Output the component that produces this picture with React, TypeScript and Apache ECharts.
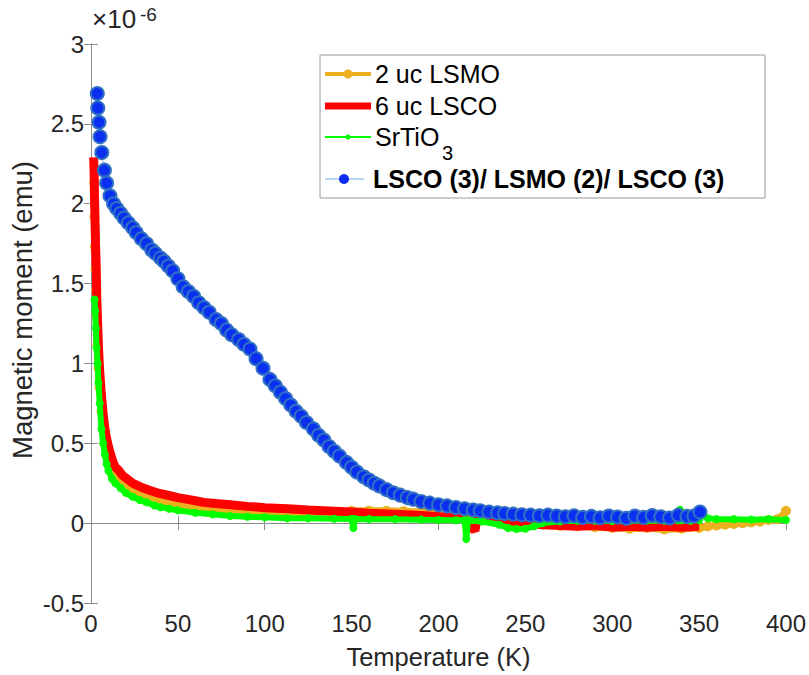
import React, { useEffect, useRef } from "react";
import * as echarts from "echarts";

// Temperature (K) and magnetic moment (×10^-6 emu)
const tempLSMO = [1.8, 2.0, 2.3, 2.6, 2.9, 3.3, 3.8, 4.4, 5, 6, 7, 8, 9, 10, 12, 14, 17, 20, 24, 28, 32, 36, 40, 45, 50, 55, 60, 70, 80, 90, 100, 113, 120, 130, 140, 150, 160, 170, 180, 190, 200, 210, 220, 230, 240, 250, 260, 270, 280, 290, 300, 310, 320, 330, 340, 350, 355, 360, 365, 370, 375, 380, 385, 390, 395, 398, 400];
const momentLSMO = [2.13, 1.92, 1.73, 1.59, 1.46, 1.3, 1.12, 0.97, 0.85, 0.7, 0.6, 0.52, 0.46, 0.41, 0.35, 0.31, 0.26, 0.23, 0.2, 0.18, 0.165, 0.15, 0.14, 0.125, 0.115, 0.105, 0.095, 0.085, 0.078, 0.07, 0.065, 0.058, 0.06, 0.065, 0.07, 0.077, 0.078, 0.077, 0.075, 0.07, 0.06, 0.05, 0.04, 0.03, 0.015, 0.0, -0.01, -0.017, -0.02, -0.025, -0.03, -0.035, -0.03, -0.04, -0.035, -0.03, -0.02, -0.015, -0.01, -0.005, 0.0, 0.005, 0.01, 0.02, 0.025, 0.04, 0.077];

const tempLSCO = [1.5, 1.8, 2.0, 2.3, 2.6, 3.0, 3.3, 3.8, 4.3, 5, 5.8, 7, 8, 9, 10, 11, 12.7, 14, 16, 18, 21, 24, 27, 30, 34, 38, 42, 46, 50, 55, 60, 65, 70, 75, 80, 90, 100, 113, 125, 140, 150, 160, 175, 190, 205, 215, 221, 222, 230, 240, 250, 260, 270, 280, 290, 300, 310, 320, 330, 340, 350];
const momentLSCO = [2.29, 2.2, 2.05, 1.9, 1.75, 1.6, 1.42, 1.25, 1.1, 0.95, 0.83, 0.68, 0.59, 0.53, 0.48, 0.44, 0.38, 0.35, 0.33, 0.3, 0.275, 0.25, 0.235, 0.22, 0.205, 0.19, 0.18, 0.17, 0.16, 0.15, 0.14, 0.13, 0.125, 0.12, 0.115, 0.105, 0.097, 0.09, 0.082, 0.075, 0.07, 0.062, 0.056, 0.048, 0.037, 0.03, -0.048, 0.025, 0.02, 0.01, 0.0, -0.01, -0.015, -0.02, -0.015, -0.025, -0.02, -0.025, -0.02, -0.025, -0.02];

const tempSTO = [2.0, 2.4, 2.8, 3.2, 3.8, 4.3, 5, 6, 7, 8, 9, 10, 12, 14, 17, 20, 24, 28, 32, 36.6, 40, 45, 50, 60, 70, 80, 90, 100, 113, 125, 140, 150, 151, 152, 160, 175, 190, 200, 210, 215, 216, 217, 225, 235, 240, 245, 250, 255, 260, 270, 280, 290, 300, 310, 320, 330, 338, 339, 340, 345, 350, 352, 355, 360, 370, 380, 390, 400];
const momentSTO = [1.4, 1.33, 1.22, 1.1, 1.0, 0.88, 0.75, 0.59, 0.5, 0.43, 0.37, 0.33, 0.28, 0.25, 0.22, 0.19, 0.165, 0.145, 0.13, 0.11, 0.1, 0.09, 0.08, 0.065, 0.055, 0.045, 0.04, 0.037, 0.03, 0.03, 0.028, 0.026, -0.03, 0.026, 0.025, 0.025, 0.022, 0.02, 0.018, 0.02, -0.1, 0.018, 0.01, -0.01, -0.03, -0.037, -0.035, -0.02, 0.0, 0.012, 0.015, 0.015, 0.013, 0.015, 0.016, 0.015, 0.018, 0.083, 0.018, 0.015, 0.02, 0.05, 0.03, 0.025, 0.025, 0.022, 0.025, 0.02];

const tempTri = [3.6, 3.9, 4.6, 5.2, 6.2, 7.7, 9.0, 10.9, 13, 14.8, 17, 19, 21.5, 24, 26, 29, 32, 35, 37, 40, 42, 44.5, 47, 50, 53, 56, 59, 62, 65, 68, 72, 75, 78, 81, 85, 88, 91.5, 95, 99, 103, 106, 109, 112, 115, 118, 121, 124, 128, 131, 134, 137, 140, 143, 147, 150, 153, 157, 160, 163, 166, 170, 174, 178, 182, 185.5, 190, 195, 200, 205, 210, 215, 220, 224, 229, 234, 238, 243, 248, 253, 258, 263, 268, 273, 278, 283, 288, 293, 298, 303, 308, 313, 318, 323, 328, 333, 338, 343, 347, 350.5];
const momentTri = [2.69, 2.6, 2.51, 2.42, 2.32, 2.21, 2.13, 2.05, 2.0, 1.97, 1.94, 1.91, 1.88, 1.85, 1.82, 1.78, 1.75, 1.71, 1.69, 1.66, 1.64, 1.61, 1.58, 1.53, 1.48, 1.45, 1.42, 1.38, 1.35, 1.32, 1.275, 1.25, 1.21, 1.18, 1.15, 1.12, 1.09, 1.03, 0.97, 0.9, 0.86, 0.82, 0.78, 0.74, 0.7, 0.67, 0.63, 0.59, 0.55, 0.52, 0.48, 0.45, 0.42, 0.38, 0.35, 0.32, 0.29, 0.27, 0.25, 0.233, 0.21, 0.19, 0.175, 0.16, 0.15, 0.135, 0.125, 0.115, 0.108, 0.098, 0.09, 0.082, 0.077, 0.07, 0.064, 0.06, 0.056, 0.052, 0.05, 0.046, 0.05, 0.044, 0.04, 0.046, 0.036, 0.042, 0.034, 0.045, 0.038, 0.03, 0.044, 0.036, 0.048, 0.04, 0.032, 0.05, 0.042, 0.045, 0.07];

const xTicks = { min: 0, max: 400, interval: 50 };
const yTicks = { min: -0.5, max: 3, interval: 0.5 };

const seriesNames = ["2 uc LSMO", "6 uc LSCO", "SrTiO3", "LSCO (3)/ LSMO (2)/ LSCO (3)"];
const xAxisTitle = "Temperature (K)";
const yAxisTitle = "Magnetic moment (emu)";

const FONT = "Liberation Sans, Arial, sans-serif";

function pairs(t: number[], v: number[]) {
  return t.map((x, i) => [x, v[i]]);
}

export default function App() {
  const ref = useRef<HTMLDivElement>(null);
  useEffect(() => {
    if (!ref.current) return;
    const chart = echarts.init(ref.current, null, { renderer: "svg" });
    const axisColor = "#8c8c8c";
    const textColor = "#262626";
    const tick = { show: true, inside: true, length: 7, lineStyle: { color: axisColor } };
    const lineX = { show: true, lineStyle: { color: axisColor, width: 1 } };
    const legendX = 320;
    const legendY = 55;
    chart.setOption({
      animation: false,
      backgroundColor: "#ffffff",
      grid: { left: 91, top: 44, right: 23, bottom: 71, containLabel: false },
      xAxis: [
        {
          type: "value",
          ...xTicks,
          position: "bottom",
          axisLine: lineX,
          axisTick: tick,
          splitLine: { show: false },
          axisLabel: { color: textColor, fontSize: 24, fontFamily: FONT, margin: 8 },
          name: xAxisTitle,
          nameLocation: "middle",
          nameGap: 41,
          nameTextStyle: { color: textColor, fontSize: 25.5, fontFamily: FONT },
        },
        {
          type: "value",
          ...xTicks,
          position: "top",
          axisLine: lineX,
          axisTick: tick,
          splitLine: { show: false },
          axisLabel: { show: false },
        },
      ],
      yAxis: [
        {
          type: "value",
          ...yTicks,
          position: "left",
          axisLine: lineX,
          axisTick: tick,
          splitLine: { show: false },
          axisLabel: { color: textColor, fontSize: 24, fontFamily: FONT, margin: 7 },
        },
        {
          type: "value",
          ...yTicks,
          position: "right",
          axisLine: lineX,
          axisTick: tick,
          splitLine: { show: false },
          axisLabel: { show: false },
        },
      ],
      series: [
        {
          name: seriesNames[0],
          type: "line",
          data: pairs(tempLSMO, momentLSMO),
          showSymbol: true,
          symbol: "circle",
          symbolSize: 10,
          lineStyle: { color: "#EDB120", width: 7 },
          itemStyle: { color: "#EDB120" },
          z: 2,
        },
        {
          name: seriesNames[1],
          type: "line",
          data: pairs(tempLSCO, momentLSCO),
          showSymbol: false,
          symbol: "none",
          lineStyle: { color: "#FF0000", width: 9 },
          itemStyle: { color: "#FF0000" },
          z: 3,
        },
        {
          name: seriesNames[2],
          type: "line",
          data: pairs(tempSTO, momentSTO),
          showSymbol: true,
          symbol: "circle",
          symbolSize: 8,
          lineStyle: { color: "#00FF00", width: 6 },
          itemStyle: { color: "#00FF00" },
          z: 4,
        },
        {
          name: seriesNames[3],
          type: "line",
          data: pairs(tempTri, momentTri),
          showSymbol: true,
          symbol: "circle",
          symbolSize: 13,
          lineStyle: { color: "#9cc6ee", width: 1 },
          itemStyle: { color: "#0a2ff0", borderColor: "#2f6fc4", borderWidth: 2 },
          z: 5,
        },
      ],
      graphic: [
        {
          type: "text",
          x: 22,
          y: 310,
          rotation: Math.PI / 2,
          style: {
            text: yAxisTitle,
            fontSize: 27.5,
            fontFamily: FONT,
            fill: textColor,
            align: "center",
            verticalAlign: "middle",
          },
        },
        {
          type: "text",
          x: 92,
          y: 32,
          style: { text: "×10", fontSize: 26, fontFamily: FONT, fill: textColor, verticalAlign: "bottom" },
        },
        {
          type: "text",
          x: 140,
          y: 14,
          style: { text: "-6", fontSize: 19, fontFamily: FONT, fill: textColor, verticalAlign: "middle" },
        },
        {
          type: "group",
          z: 100,
          children: [
            {
              type: "rect",
              shape: { x: legendX, y: legendY, width: 445, height: 143 },
              style: { fill: "#ffffff", stroke: "#9a9a9a", lineWidth: 1 },
            },
            { type: "line", shape: { x1: 325, y1: 74, x2: 371, y2: 74 }, style: { stroke: "#EDB120", lineWidth: 4 } },
            { type: "circle", shape: { cx: 348, cy: 74, r: 4.5 }, style: { fill: "#EDB120" } },
            { type: "text", x: 375, y: 74, style: { text: seriesNames[0], fontSize: 25, fontFamily: FONT, fill: "#000", verticalAlign: "middle" } },
            { type: "line", shape: { x1: 325, y1: 106, x2: 371, y2: 106 }, style: { stroke: "#FF0000", lineWidth: 7 } },
            { type: "text", x: 375, y: 106, style: { text: seriesNames[1], fontSize: 25, fontFamily: FONT, fill: "#000", verticalAlign: "middle" } },
            { type: "line", shape: { x1: 325, y1: 137, x2: 371, y2: 137 }, style: { stroke: "#00FF00", lineWidth: 2 } },
            { type: "circle", shape: { cx: 348, cy: 137, r: 2.5 }, style: { fill: "#00FF00" } },
            { type: "text", x: 375, y: 137, style: { text: "SrTiO", fontSize: 25, fontFamily: FONT, fill: "#000", verticalAlign: "middle" } },
            { type: "text", x: 442, y: 153, style: { text: "3", fontSize: 20, fontFamily: FONT, fill: "#000", verticalAlign: "middle" } },
            { type: "line", shape: { x1: 325, y1: 179, x2: 364, y2: 179 }, style: { stroke: "#9cc6ee", lineWidth: 1.5 } },
            { type: "circle", shape: { cx: 344, cy: 179, r: 5 }, style: { fill: "#0a2ff0" } },
            { type: "text", x: 373, y: 179, style: { text: seriesNames[3], fontSize: 25, fontWeight: "bold", fontFamily: FONT, fill: "#000", verticalAlign: "middle" } },
          ],
        },
      ],
    });
    return () => chart.dispose();
  }, []);
  return <div ref={ref} style={{ position: "fixed", left: 0, top: 0, width: 809, height: 675 }} />;
}
